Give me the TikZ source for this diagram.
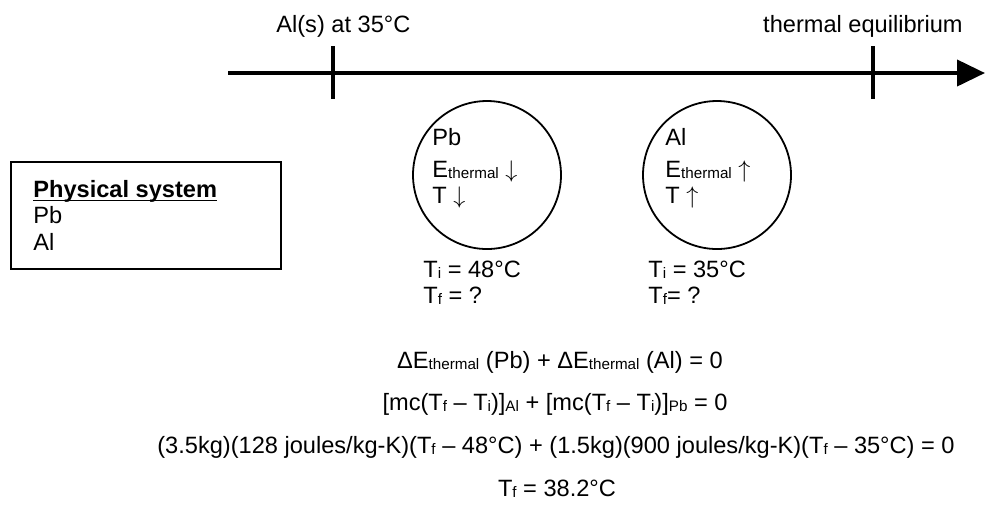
\documentclass[tikz,border=0pt]{standalone}
\usepackage{fontspec}
\setmainfont{Liberation Sans}
\usetikzlibrary{arrows.meta}

\newcommand{\lowtxt}[1]{\raisebox{-0.9pt}{\fontsize{7.6}{8}\selectfont #1}}

\begin{document}
\begin{tikzpicture}[x=0.5pt, y=-0.5pt,
    every node/.style={inner sep=0pt, font=\fontsize{11.8}{14}\selectfont},
    lbl/.style={anchor=base west},
    eqn/.style={anchor=base},
    tick/.style={line width=1.6pt},
    sysball/.style={draw, circle, line width=0.9pt, minimum size=74pt}]

    \useasboundingbox (0,0) rectangle (999,511);

    % time line
    \coordinate (tstart) at (228,73);
    \coordinate (tend) at (985,73);
    \draw[line width=2pt, -{Triangle[length=14pt, width=13pt]}] (tstart) -- (tend);
    \coordinate (tatop) at (333,46);
    \coordinate (tabot) at (333,99);
    \coordinate (tbtop) at (873,46);
    \coordinate (tbbot) at (873,99);
    \draw[tick] (tatop) -- (tabot);
    \draw[tick] (tbtop) -- (tbbot);
    \node[lbl] (startlbl) at (276,32) {Al(s) at 35°C};
    \node[anchor=base east] (endlbl) at (963,32) {thermal equilibrium};

    % physical system
    \node[draw, line width=0.9pt, anchor=north west,
          minimum width=135pt, minimum height=53.5pt] (physbox) at (10,161) {};
    \node[lbl, font=\fontsize{11.8}{14}\selectfont\bfseries] (physlbl) at (33,197) {Physical system};
    \draw[line width=0.6pt] ([yshift=-1.6pt]physlbl.base west) -- ([yshift=-1.6pt]physlbl.base east);
    \node[lbl] (physpb) at (33,223) {Pb};
    \node[lbl] (physal) at (33,250) {Al};

    % the two parts
    \node[sysball] (pbball) at (487,175) {};
    \node[sysball] (alball) at (717,175) {};

    \node[lbl] (pbname) at (432,145) {Pb};
    \node[lbl] (pbeth) at (432,177) {E\lowtxt{thermal} $\downarrow$};
    \node[lbl] (pbtemp) at (432,203) {T $\downarrow$};
    \node[lbl] (pbti) at (423,277) {T\lowtxt{i} = 48°C};
    \node[lbl] (pbtf) at (423,303) {T\lowtxt{f} = ?};

    \node[lbl] (alname) at (665,145) {Al};
    \node[lbl] (aleth) at (665,177) {E\lowtxt{thermal} $\uparrow$};
    \node[lbl] (altemp) at (665,203) {T $\uparrow$};
    \node[lbl] (alti) at (648,277) {T\lowtxt{i} = 35°C};
    \node[lbl] (altf) at (648,303) {T\lowtxt{f}= ?};

    % energy balance
    \node[eqn] (eqa) at (560,368) {ΔE\lowtxt{thermal} (Pb) + ΔE\lowtxt{thermal} (Al) = 0};
    \node[eqn] (eqb) at (555,410) {[mc(T\lowtxt{f} – T\lowtxt{i})]\lowtxt{Al} + [mc(T\lowtxt{f} – T\lowtxt{i})]\lowtxt{Pb} = 0};
    \node[eqn] (eqc) at (556,453) {(3.5kg)(128 joules/kg-K)(T\lowtxt{f} – 48°C) + (1.5kg)(900 joules/kg-K)(T\lowtxt{f} – 35°C) = 0};
    \node[eqn] (eqd) at (557,496) {T\lowtxt{f} = 38.2°C};
\end{tikzpicture}
\end{document}
